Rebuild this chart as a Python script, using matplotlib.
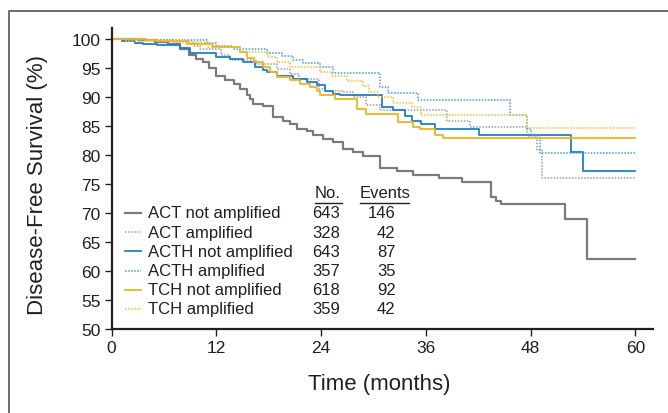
import matplotlib
matplotlib.use("Agg")
import matplotlib.pyplot as plt
from matplotlib.lines import Line2D

plt.rcParams['font.family'] = ['Liberation Sans', 'DejaVu Sans']

# Kaplan-Meier step data (months, % disease-free)
act_na_t = [0, 3, 5, 6.5, 7.8, 8.9, 9.7, 10.5, 11.2, 12.0, 13.0, 14.0, 14.7, 15.5, 15.9, 16.2,
            17.4, 18.5, 19.6, 20.4, 21.2, 22.4, 23.1, 24.2, 25.4, 26.5, 27.7, 28.8, 30.8, 32.7,
            34.5, 37.5, 40.2, 43.5, 44.0, 44.6, 51.9, 54.5, 60]
act_na_s = [100, 99.8, 99.5, 99.2, 98.3, 97.2, 96.5, 96.0, 95.0, 93.7, 93.0, 92.3, 91.4, 90.3, 89.7, 88.8,
            88.4, 86.5, 85.9, 85.4, 84.5, 84.2, 83.4, 82.8, 82.2, 81.1, 80.5, 79.9, 77.7, 77.3,
            76.6, 76.1, 75.3, 72.7, 72.0, 71.6, 69.0, 62.1, 62.1]

act_a_t = [0, 4, 7, 9.5, 10.1, 12.5, 13.6, 16.5, 19.0, 20.5, 21.5, 23.8, 24.5, 26.5, 27.7, 29.2,
           30.8, 38.4, 41.1, 47.6, 48.7, 49.3, 60]
act_a_s = [100, 99.8, 99.5, 98.8, 98.2, 97.2, 96.3, 95.7, 94.8, 94.0, 93.1, 91.4, 91.0, 90.8, 90.0, 88.7,
           87.8, 85.8, 84.8, 83.3, 80.8, 76.0, 76.0]

acth_na_t = [0, 1.2, 2.7, 3.6, 5.2, 7.8, 9.0, 12.0, 13.6, 15.1, 16.4, 17.4, 17.8, 18.9, 20.8, 22.4,
             23.5, 24.5, 25.4, 26.2, 31.0, 32.3, 33.6, 34.4, 35.5, 37.0, 42.1, 52.6, 54.0, 60]
acth_na_s = [100, 99.7, 99.4, 99.2, 99.0, 98.5, 97.6, 96.9, 96.5, 96.0, 95.2, 94.6, 94.3, 93.7, 93.1, 92.6,
             92.0, 91.1, 90.6, 90.3, 88.3, 87.7, 86.8, 85.9, 85.4, 84.5, 83.5, 80.6, 77.3, 77.3]

acth_a_t = [0, 3, 6.5, 10.9, 12.0, 13.9, 17.8, 19.5, 20.8, 21.9, 23.9, 25.4, 30.8, 31.7, 35.1,
            45.6, 47.6, 48.0, 49.1, 60]
acth_a_s = [100, 99.9, 99.8, 99.3, 98.8, 98.2, 97.6, 97.0, 96.3, 95.8, 95.1, 94.1, 91.7, 90.7, 89.5,
            86.9, 84.5, 83.4, 80.4, 80.4]

tch_na_t = [0, 4, 5.2, 8.6, 11.6, 14.7, 15.5, 16.3, 17.4, 18.2, 19.0, 20.4, 21.6, 22.7, 23.5, 23.9,
            25.6, 28.1, 29.2, 32.8, 34.5, 35.3, 37.0, 38.0, 60]
tch_na_s = [100, 99.8, 99.65, 99.2, 98.6, 97.8, 96.8, 96.0, 95.1, 94.3, 93.4, 92.9, 92.3, 91.8, 91.1, 90.3,
            89.7, 88.0, 87.1, 85.7, 84.8, 84.5, 83.5, 83.0, 83.0]

tch_a_t = [0, 1.5, 8, 11, 14.7, 17.9, 18.9, 20.4, 23.9, 25.2, 27.0, 28.8, 29.5, 30.5, 32.2, 34.4,
           35.5, 47.6, 60]
tch_a_s = [100, 99.6, 99.5, 98.6, 97.8, 96.9, 96.0, 95.2, 94.3, 93.6, 92.8, 91.9, 90.9, 90.0, 88.9, 88.3,
           86.9, 84.6, 84.6]

labels = ["ACT not amplified", "ACT amplified", "ACTH not amplified",
          "ACTH amplified", "TCH not amplified", "TCH amplified"]
n_patients = [643, 328, 643, 357, 618, 359]
n_events = [146, 42, 87, 35, 92, 42]

x_ticks = [0, 12, 24, 36, 48, 60]
y_ticks = [50, 55, 60, 65, 70, 75, 80, 85, 90, 95, 100]

ink = "#231f20"
dot = (0, (1, 1))
series = [
    (act_na_t, act_na_s, "#7b7b7b", "-", 1.6),
    (act_a_t, act_a_s, "#9c9c9c", dot, 1.1),
    (acth_na_t, acth_na_s, "#1f80c4", "-", 1.3),
    (acth_a_t, acth_a_s, "#3d9ddb", dot, 1.1),
    (tch_na_t, tch_na_s, "#efb322", "-", 1.3),
    (tch_a_t, tch_a_s, "#f1bd2c", dot, 1.1),
]

W, H = 668, 414
fig = plt.figure(figsize=(W / 100, H / 100), dpi=100)
ax = fig.add_axes([111.5 / W, 1 - 330 / H, 541.3 / W, 300.7 / H])

for t, s, c, ls, lw in series:
    ax.step(t, s, where="post", color=c, linestyle=ls, linewidth=lw)

ax.set_xlim(0, 62)
ax.set_ylim(50, 101.85)
ax.set_xticks(x_ticks)
ax.set_yticks(y_ticks)
ax.tick_params(direction="out", length=5, width=1, color=ink, labelcolor=ink,
               labelsize=12.5, pad=3)
for side in ["top", "right"]:
    ax.spines[side].set_visible(False)
for side in ["left", "bottom"]:
    ax.spines[side].set_linewidth(1.6)
    ax.spines[side].set_color(ink)

fig.text(38 / W, 1 - 185 / H, "Disease-Free Survival (%)", rotation=90,
         ha="center", va="center", fontsize=16, color=ink)
fig.text(379 / W, 1 - 385 / H, "Time (months)", ha="center", va="center",
         fontsize=16, color=ink)

# legend table, pixel layout
def fx(px):
    return px / W

def fy(py):
    return 1 - py / H

fig.text(fx(315), fy(194), "No.", ha="left", va="center", fontsize=12, color=ink)
fig.text(fx(360), fy(194), "Events", ha="left", va="center", fontsize=12, color=ink)
fig.add_artist(Line2D([fx(315), fx(341.5)], [fy(203.5), fy(203.5)], color=ink, lw=1))
fig.add_artist(Line2D([fx(360), fx(409)], [fy(203.5), fy(203.5)], color=ink, lw=1))

for i, (t, s, c, ls, lw) in enumerate(series):
    y = 214 + i * 19.2
    fig.add_artist(Line2D([fx(125), fx(141)], [fy(y), fy(y)], color=c, linestyle=ls, lw=lw))
    fig.text(fx(148), fy(y), labels[i], ha="left", va="center", fontsize=12, color=ink)
    fig.text(fx(340), fy(y), str(n_patients[i]), ha="right", va="center", fontsize=12, color=ink)
    fig.text(fx(395.5), fy(y), str(n_events[i]), ha="right", va="center", fontsize=12, color=ink)

# outer frame (left and top edges visible in the crop)
fig.add_artist(Line2D([fx(9), fx(9), fx(W + 5)], [fy(H + 5), fy(12), fy(12)],
                      color="#555555", lw=1.2))

fig.savefig("out.png", dpi=100)
